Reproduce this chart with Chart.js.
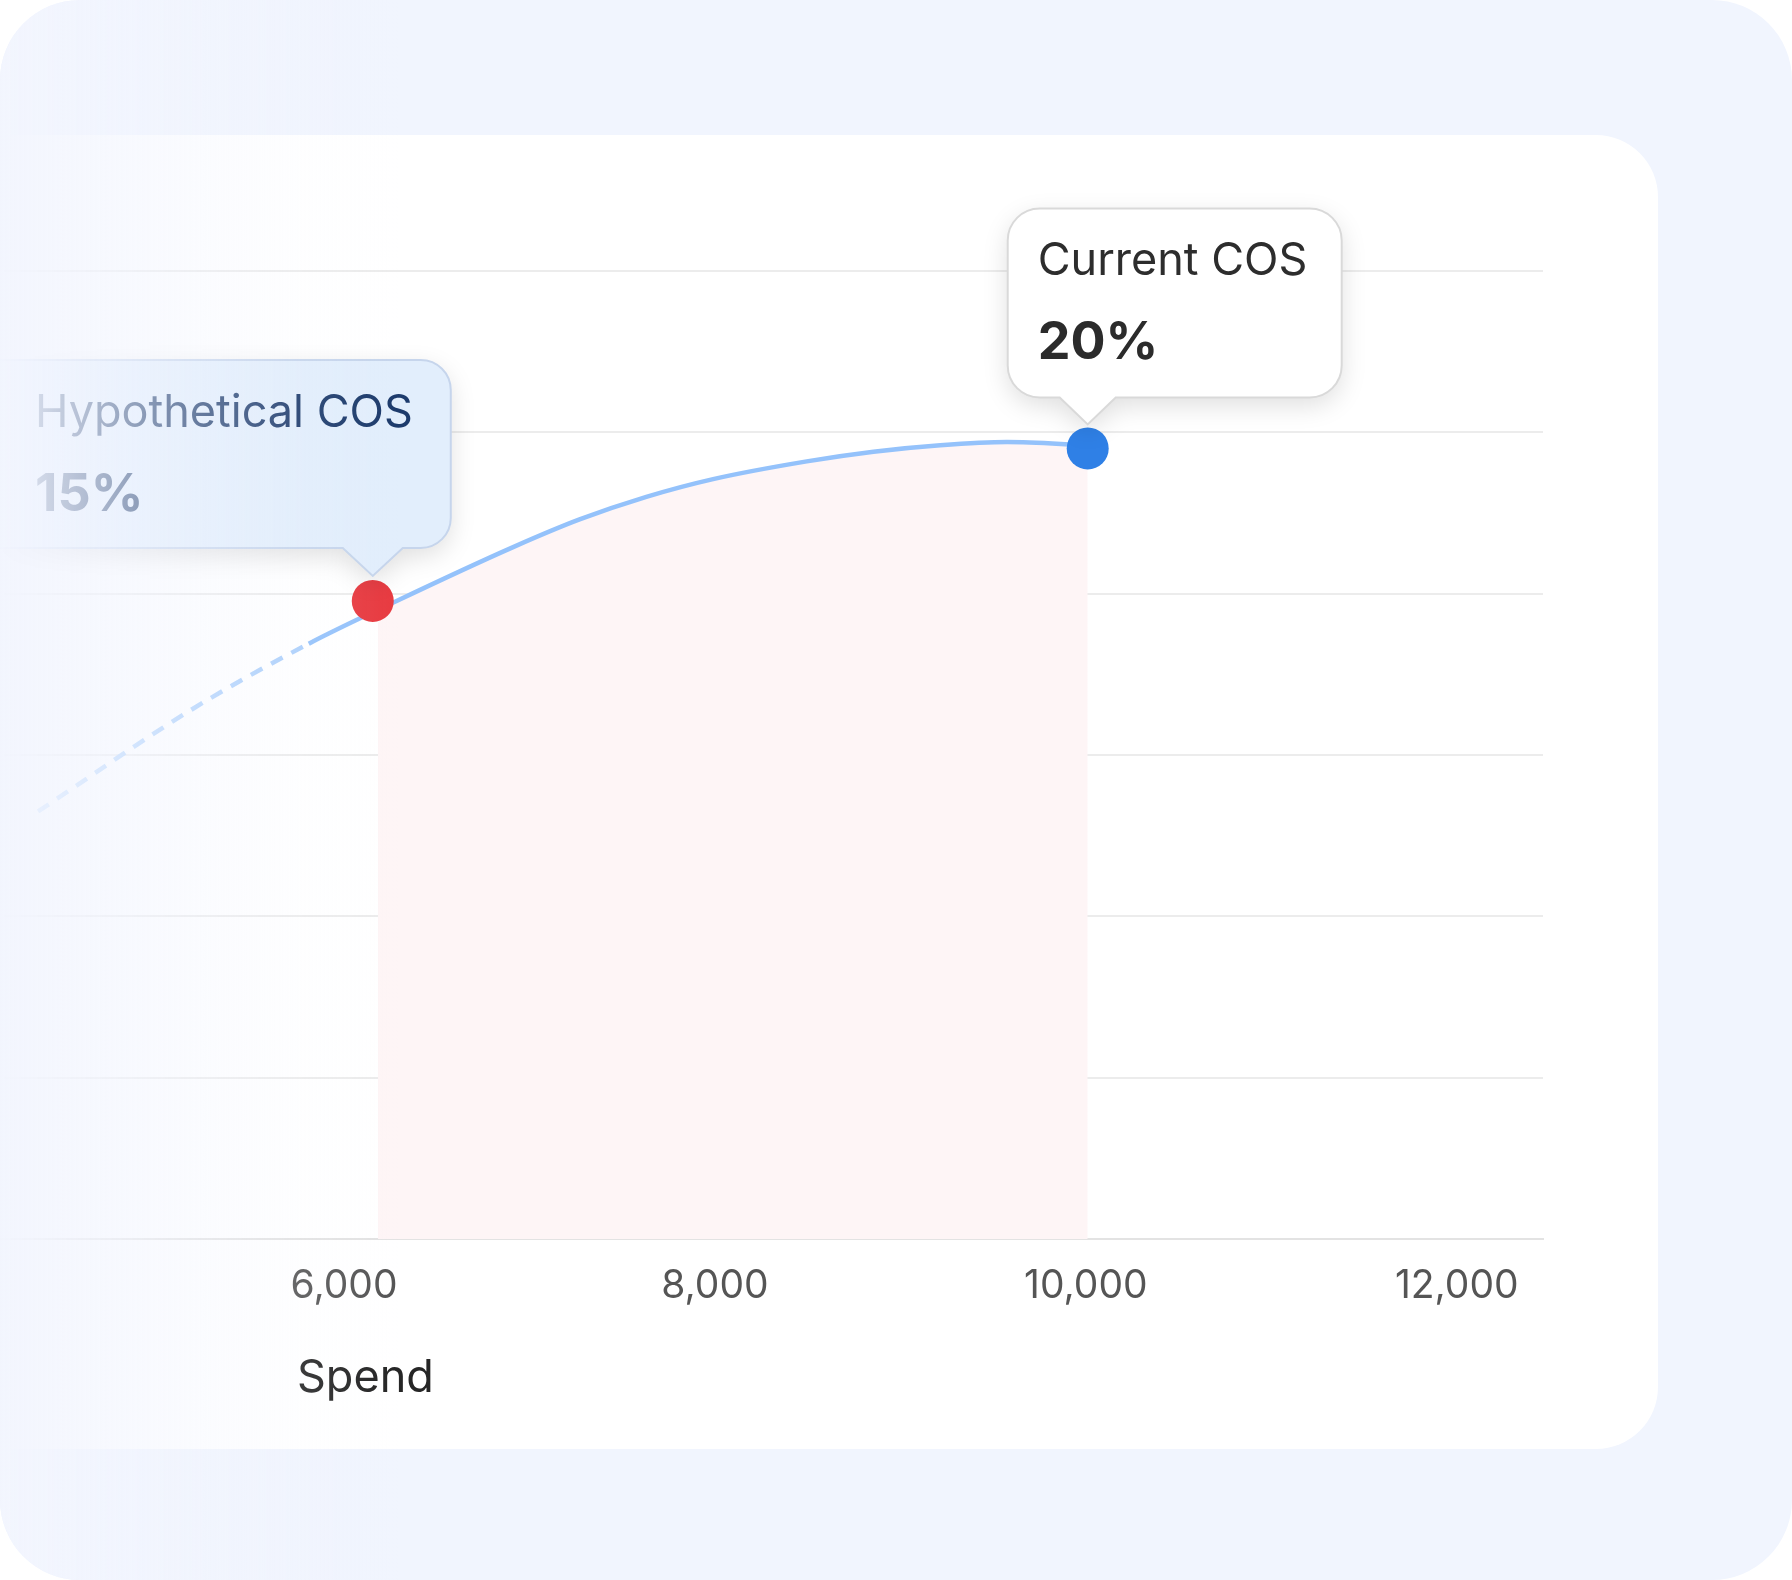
<!DOCTYPE html>
<html>
<head>
<meta charset="utf-8">
<script src="https://cdn.jsdelivr.net/npm/chart.js@4.4.1/dist/chart.umd.min.js"></script>
<style>
  html, body { margin: 0; padding: 0; background: #ffffff; }
  #frame { position: relative; width: 1792px; height: 1580px; border-radius: 80px; background: #f1f5fe; overflow: hidden; }
  #card { position: absolute; left: -100px; top: 135px; width: 1758px; height: 1314px; background: #ffffff; border-radius: 62px; }
  #chart { position: absolute; left: 0; top: 0; }
  #fade {
    position: absolute; left: 0; top: 0; width: 420px; height: 100%; pointer-events: none;
    background: linear-gradient(90deg,
      rgba(242,245,254,0.97) 0px,
      rgba(242,245,254,0.66) 100px,
      rgba(242,245,254,0.34) 200px,
      rgba(242,245,254,0.10) 300px,
      rgba(242,245,254,0) 400px);
  }
</style>
</head>
<body>
<div id="frame">
  <div id="card"></div>
  <canvas id="chart" width="1792" height="1580"></canvas>
  <div id="fade"></div>
</div>
<script>
// ── DATA ─────────────────────────────────────────────────────
// spend (x) vs. an unlabelled response value (y, six equal bands)
const SPEND    = [4350, 5190, 5810, 6275, 6915, 7270, 7630, 7990, 8495, 8855, 9215, 9575, 10010];
const RESPONSE = [2.65, 3.29, 3.69, 3.95, 4.29, 4.46, 4.60, 4.71, 4.82, 4.88, 4.92, 4.94, 4.92];
const DASHED_UNTIL = 5810;          // projected part of the curve
const SHADE_FROM = 6183, SHADE_TO = 10010;

const MARKER_SPEND  = [6155, 10010];
const MARKER_Y      = [3.955, 4.90];
const MARKER_TITLES = ['Hypothetical COS', 'Current COS'];
const MARKER_VALUES = ['15%', '20%'];

const X_TICKS = [6000, 8000, 10000, 12000];
const X_MIN = 4145, X_MAX = 12465;
const Y_MIN = 0, Y_MAX = 6;
const X_TITLE = 'Spend';

// ── STYLE ────────────────────────────────────────────────────
const LINE_COLOR   = '#94c2fb';
const DASH_COLOR   = '#acd0fc';
const SHADE_COLOR  = '#fef5f6';
const MARKER_COLORS = ['#e83a40', '#2f80e6'];
const BOXES = [
  { left: -420, right: 78, top: -241, bottom: -53, tip: -25, half: 30, r: 30,
    fill: '#e2eefc', border: '#c6d5ec', title: '#1d3b6c', value: '#1d3b6c', pad: 33 },
  { left: -80, right: 254, top: -240, bottom: -51, tip: -24, half: 28, r: 32,
    fill: '#ffffff', border: '#d9d9d9', title: '#2d2d2d', value: '#2b2b2b', pad: 30 },
];

Chart.defaults.font.family = "Inter, 'Noto Sans', sans-serif";

const rows = SPEND.map((x, i) => ({ x, y: RESPONSE[i] }));
const markers = MARKER_SPEND.map((x, i) => ({ x, y: MARKER_Y[i] }));

function bubblePath(ctx, l, t, r, b, rad, tipX, tipY, half) {
  ctx.beginPath();
  ctx.moveTo(l + rad, t);
  ctx.lineTo(r - rad, t);
  ctx.arcTo(r, t, r, t + rad, rad);
  ctx.lineTo(r, b - rad);
  ctx.arcTo(r, b, r - rad, b, rad);
  ctx.lineTo(tipX + half, b);
  ctx.lineTo(tipX, tipY);
  ctx.lineTo(tipX - half, b);
  ctx.lineTo(l + rad, b);
  ctx.arcTo(l, b, l, b - rad, rad);
  ctx.lineTo(l, t + rad);
  ctx.arcTo(l, t, l + rad, t, rad);
  ctx.closePath();
}

// callout boxes + axis caption
const calloutPlugin = {
  id: 'callouts',
  afterDatasetsDraw(chart) {
    const ctx = chart.ctx;
    const meta = chart.getDatasetMeta(0);
    meta.data.forEach((pt, i) => {
      const b = BOXES[i];
      const px = pt.x, py = pt.y;
      const l = px + b.left, r = px + b.right, t = py + b.top, bt = py + b.bottom;
      ctx.save();
      ctx.shadowColor = 'rgba(0,0,0,0.13)';
      ctx.shadowBlur = 26;
      ctx.shadowOffsetY = 8;
      bubblePath(ctx, l, t, r, bt, b.r, px, py + b.tip, b.half);
      ctx.fillStyle = b.fill;
      ctx.fill();
      ctx.restore();
      ctx.save();
      bubblePath(ctx, l, t, r, bt, b.r, px, py + b.tip, b.half);
      ctx.lineWidth = 2;
      ctx.strokeStyle = b.border;
      ctx.stroke();
      ctx.textBaseline = 'alphabetic';
      ctx.textAlign = 'left';
      const tx = i === 0 ? 35 : l + b.pad;
      ctx.font = "400 45px Inter, 'Noto Sans', sans-serif";
      ctx.fillStyle = b.title;
      ctx.fillText(MARKER_TITLES[i], tx, t + 67);
      ctx.font = "700 52px Inter, 'Noto Sans', sans-serif";
      ctx.fillStyle = b.value;
      ctx.fillText(MARKER_VALUES[i], tx, t + 151);
      ctx.restore();
    });
    ctx.save();
    ctx.font = "400 45px Inter, 'Noto Sans', sans-serif";
    ctx.fillStyle = '#262626';
    ctx.textBaseline = 'alphabetic';
    ctx.fillText(X_TITLE, 297, 1392);
    ctx.restore();
  }
};

new Chart(document.getElementById('chart'), {
  type: 'line',
  data: {
    datasets: [
      {
        label: 'markers',
        data: markers,
        showLine: false,
        pointRadius: 21,
        pointHoverRadius: 21,
        pointBorderWidth: 0,
        pointBackgroundColor: MARKER_COLORS,
      },
      {
        label: 'curve',
        data: rows,
        borderColor: LINE_COLOR,
        borderWidth: 4.5,
        pointRadius: 0,
        cubicInterpolationMode: 'monotone',
        fill: false,
        segment: {
          borderDash: c => c.p1.parsed.x <= DASHED_UNTIL ? [13, 10] : undefined,
          borderColor: c => c.p1.parsed.x <= DASHED_UNTIL ? DASH_COLOR : undefined,
        },
      },
      {
        label: 'shade',
        data: rows,
        borderWidth: 0,
        borderColor: 'rgba(0,0,0,0)',
        pointRadius: 0,
        cubicInterpolationMode: 'monotone',
        fill: 'start',
        backgroundColor: c => {
          const { chart } = c;
          const area = chart.chartArea;
          if (!area) return SHADE_COLOR;
          const xs = chart.scales.x;
          const w = area.right - area.left;
          const f1 = Math.max(0, Math.min(1, (xs.getPixelForValue(SHADE_FROM) - area.left) / w));
          const f2 = Math.max(0, Math.min(1, (xs.getPixelForValue(SHADE_TO) - area.left) / w));
          const g = chart.ctx.createLinearGradient(area.left, 0, area.right, 0);
          g.addColorStop(0, 'rgba(254,245,246,0)');
          g.addColorStop(f1, 'rgba(254,245,246,0)');
          g.addColorStop(f1, SHADE_COLOR);
          g.addColorStop(f2, SHADE_COLOR);
          g.addColorStop(f2, 'rgba(254,245,246,0)');
          g.addColorStop(1, 'rgba(254,245,246,0)');
          return g;
        },
      },
    ],
  },
  options: {
    responsive: false,
    devicePixelRatio: 1,
    animation: false,
    layout: { autoPadding: false, padding: { left: 0, right: 249, top: 271, bottom: 0 } },
    scales: {
      x: {
        type: 'linear',
        min: X_MIN,
        max: X_MAX,
        afterBuildTicks: s => { s.ticks = X_TICKS.map(v => ({ value: v })); },
        afterFit: s => { s.height = 341; },
        grid: { display: false, drawTicks: false },
        border: { display: true, color: '#e3e3e3', width: 2 },
        ticks: {
          autoSkip: false,
          maxRotation: 0,
          padding: 24,
          color: '#555555',
          font: { size: 39 },
          callback: v => v.toLocaleString('en-US'),
        },
      },
      y: {
        min: Y_MIN,
        max: Y_MAX,
        afterFit: s => { s.width = 0; },
        ticks: { display: false, stepSize: 1 },
        grid: { color: '#ececec', lineWidth: 2, drawTicks: false },
        border: { display: false },
      },
    },
    plugins: {
      legend: { display: false },
      tooltip: { enabled: false },
    },
  },
  plugins: [calloutPlugin],
});
</script>
</body>
</html>
